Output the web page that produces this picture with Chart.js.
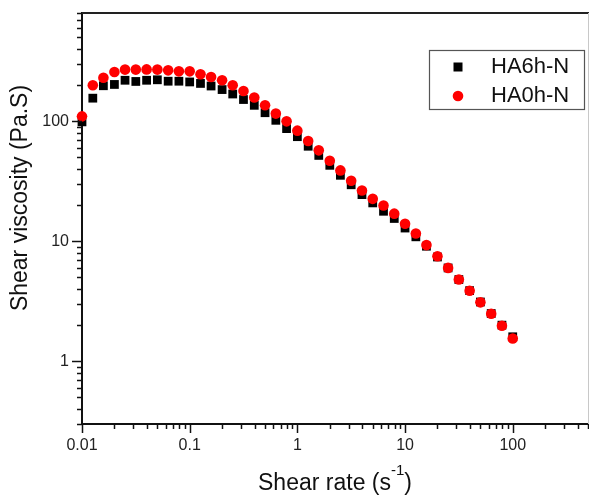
<!DOCTYPE html>
<html>
<head>
<meta charset="utf-8">
<script src="https://cdn.jsdelivr.net/npm/chart.js@4/dist/chart.umd.min.js"></script>
<style>
  html, body { margin: 0; padding: 0; background: #fff; }
  #wrap { width: 589px; height: 495px; position: relative; }
</style>
</head>
<body>
<div id="wrap"><canvas id="c" width="589" height="495"></canvas></div>
<script>
// ---- data ----
const shearRate = [0.01, 0.0126, 0.0158, 0.02, 0.0251, 0.0316, 0.0398, 0.0501, 0.0631, 0.0794,
  0.1, 0.126, 0.158, 0.2, 0.251, 0.316, 0.398, 0.501, 0.631, 0.794,
  1, 1.26, 1.58, 2, 2.51, 3.16, 3.98, 5.01, 6.31, 7.94,
  10, 12.6, 15.8, 20, 25.1, 31.6, 39.8, 50.1, 63.1, 79.4, 100];
const ha6hN = [99, 156, 198, 203, 220, 215, 220, 222, 216, 216,
  213, 207, 197, 184, 169, 152, 136, 118, 102, 87,
  74.5, 62, 52, 43, 35.5, 29.6, 24.5, 20.9, 17.8, 15.5,
  12.9, 10.9, 9.1, 7.4, 6.0, 4.8, 3.88, 3.12, 2.5, 2.0, 1.6];
const ha0hN = [110, 200, 231, 258, 270, 270, 271, 270, 266, 261,
  261, 247, 234, 220, 200, 179, 158, 136, 116, 100,
  83.6, 68.6, 57.3, 47, 39, 32, 26.5, 22.6, 19.9, 17.0,
  14.0, 11.6, 9.3, 7.5, 6.0, 4.8, 3.87, 3.1, 2.49, 1.98, 1.55];
const seriesLabels = ['HA6h-N', 'HA0h-N'];

const xTicks = [0.01,0.02,0.03,0.04,0.05,0.06,0.07,0.08,0.09,
  0.1,0.2,0.3,0.4,0.5,0.6,0.7,0.8,0.9,
  1,2,3,4,5,6,7,8,9,
  10,20,30,40,50,60,70,80,90,
  100,200,300,400,500];
const xTickLabels = {0.01: '0.01', 0.1: '0.1', 1: '1', 10: '10', 100: '100'};
const yTicks = [0.3,0.4,0.5,0.6,0.7,0.8,0.9,
  1,2,3,4,5,6,7,8,9,
  10,20,30,40,50,60,70,80,90,
  100,200,300,400,500,600,700,800];
const yTickLabels = {1: '1', 10: '10', 100: '100'};
const xTitle = 'Shear rate (s';
const xTitleSup = '-1';
const xTitleEnd = ')';
const yTitle = 'Shear viscosity (Pa.S)';

const FONT = '"Liberation Sans", Arial, sans-serif';

function toPoints(xs, ys) { return xs.map((x, i) => ({x: x, y: ys[i]})); }
function zeroPad(s) { s.paddingLeft = 0; s.paddingRight = 0; s.paddingTop = 0; s.paddingBottom = 0; }

const tickPlugin = {
  id: 'originTicks',
  afterDraw(chart) {
    const ctx = chart.ctx;
    const xs = chart.scales.x, ys = chart.scales.y;
    const area = chart.chartArea;
    ctx.save();
    ctx.strokeStyle = '#111';
    ctx.lineWidth = 1.5;
    // x ticks
    xs.ticks.forEach(t => {
      const px = Math.round(xs.getPixelForValue(t.value)) + 0.5;
      const len = (t.value in xTickLabels) ? 9 : 5;
      ctx.beginPath(); ctx.moveTo(px, area.bottom); ctx.lineTo(px, area.bottom + len); ctx.stroke();
    });
    ys.ticks.forEach(t => {
      const py = Math.round(ys.getPixelForValue(t.value)) + 0.5;
      const len = (t.value in yTickLabels) ? 10 : 5;
      ctx.beginPath(); ctx.moveTo(area.left, py); ctx.lineTo(area.left - len, py); ctx.stroke();
    });
    // top frame line & right border
    ctx.lineWidth = 2;
    ctx.strokeStyle = '#222';
    ctx.beginPath(); ctx.moveTo(area.left, area.top); ctx.lineTo(area.right + 1, area.top); ctx.stroke();
    ctx.lineWidth = 1;
    ctx.strokeStyle = '#c8c8c8';
    ctx.beginPath(); ctx.moveTo(area.right + 0.5, area.top); ctx.lineTo(area.right + 0.5, area.bottom); ctx.stroke();

    // axis titles
    ctx.fillStyle = '#111';
    ctx.font = '23px ' + FONT;
    const w1 = ctx.measureText(xTitle).width;
    ctx.font = '15px ' + FONT;
    const w2 = ctx.measureText(xTitleSup).width;
    ctx.font = '23px ' + FONT;
    const w3 = ctx.measureText(xTitleEnd).width;
    const cx = (area.left + area.right) / 2;
    let sx = cx - (w1 + w2 + w3) / 2;
    const by = 490;
    ctx.textBaseline = 'alphabetic';
    ctx.textAlign = 'left';
    ctx.fillText(xTitle, sx, by);
    ctx.font = '15px ' + FONT;
    ctx.fillText(xTitleSup, sx + w1, by - 15);
    ctx.font = '23px ' + FONT;
    ctx.fillText(xTitleEnd, sx + w1 + w2, by);

    ctx.save();
    ctx.translate(27, 198);
    ctx.rotate(-Math.PI / 2);
    ctx.textAlign = 'center';
    ctx.textBaseline = 'alphabetic';
    ctx.fillText(yTitle, 0, 0);
    ctx.restore();

    // legend
    const lx = 429.5, ly = 50.5, lw = 155, lh = 59;
    ctx.lineWidth = 1.2;
    ctx.strokeStyle = '#555';
    ctx.strokeRect(lx, ly, lw, lh);
    ctx.font = '22px ' + FONT;
    ctx.textBaseline = 'middle';
    ctx.textAlign = 'left';
    const dsA = chart.data.datasets[0], dsB = chart.data.datasets[1];
    ctx.fillStyle = dsA.backgroundColor;
    ctx.fillRect(458 - 4.5, 67 - 4.5, 9, 9);
    ctx.fillStyle = '#111';
    ctx.fillText(dsA.label, 491, 67);
    ctx.fillStyle = dsB.backgroundColor;
    ctx.beginPath(); ctx.arc(458, 96, 5.3, 0, Math.PI * 2); ctx.fill();
    ctx.fillStyle = '#111';
    ctx.fillText(dsB.label, 491, 96);
    ctx.restore();
  }
};

new Chart(document.getElementById('c'), {
  type: 'scatter',
  data: {
    datasets: [
      { label: seriesLabels[0], data: toPoints(shearRate, ha6hN), pointStyle: 'rect',
        pointRadius: 6.2, pointHoverRadius: 6.2, backgroundColor: '#000', borderColor: '#000', borderWidth: 0, order: 2 },
      { label: seriesLabels[1], data: toPoints(shearRate, ha0hN), pointStyle: 'circle',
        pointRadius: 5.3, pointHoverRadius: 5.3, backgroundColor: '#f00', borderColor: '#f00', borderWidth: 0, order: 1 }
    ]
  },
  options: {
    responsive: false,
    animation: false,
    events: [],
    clip: false,
    layout: { autoPadding: false, padding: { top: 13, right: 1, left: 0, bottom: 0 } },
    plugins: { legend: { display: false }, tooltip: { enabled: false }, title: { display: false } },
    scales: {
      x: {
        type: 'logarithmic', min: 0.01, max: 500,
        afterBuildTicks: s => { s.ticks = xTicks.map(v => ({value: v})); },
        afterFit: s => { s.height = 71; zeroPad(s); },
        grid: { display: true, drawOnChartArea: false, drawTicks: false },
        border: { display: true, color: '#111', width: 2 },
        ticks: { autoSkip: false, maxRotation: 0, padding: 12, color: '#222',
          font: { family: FONT, size: 16 },
          callback: v => (v in xTickLabels) ? xTickLabels[v] : '' }
      },
      y: {
        type: 'logarithmic', min: 0.3, max: 800,
        afterBuildTicks: s => { s.ticks = yTicks.map(v => ({value: v})); },
        afterFit: s => { s.width = 82; zeroPad(s); },
        grid: { display: true, drawOnChartArea: false, drawTicks: false },
        border: { display: true, color: '#111', width: 2 },
        ticks: { autoSkip: false, padding: 13, color: '#222',
          font: { family: FONT, size: 16 },
          callback: v => (v in yTickLabels) ? yTickLabels[v] : '' }
      }
    }
  },
  plugins: [tickPlugin]
});
</script>
</body>
</html>
